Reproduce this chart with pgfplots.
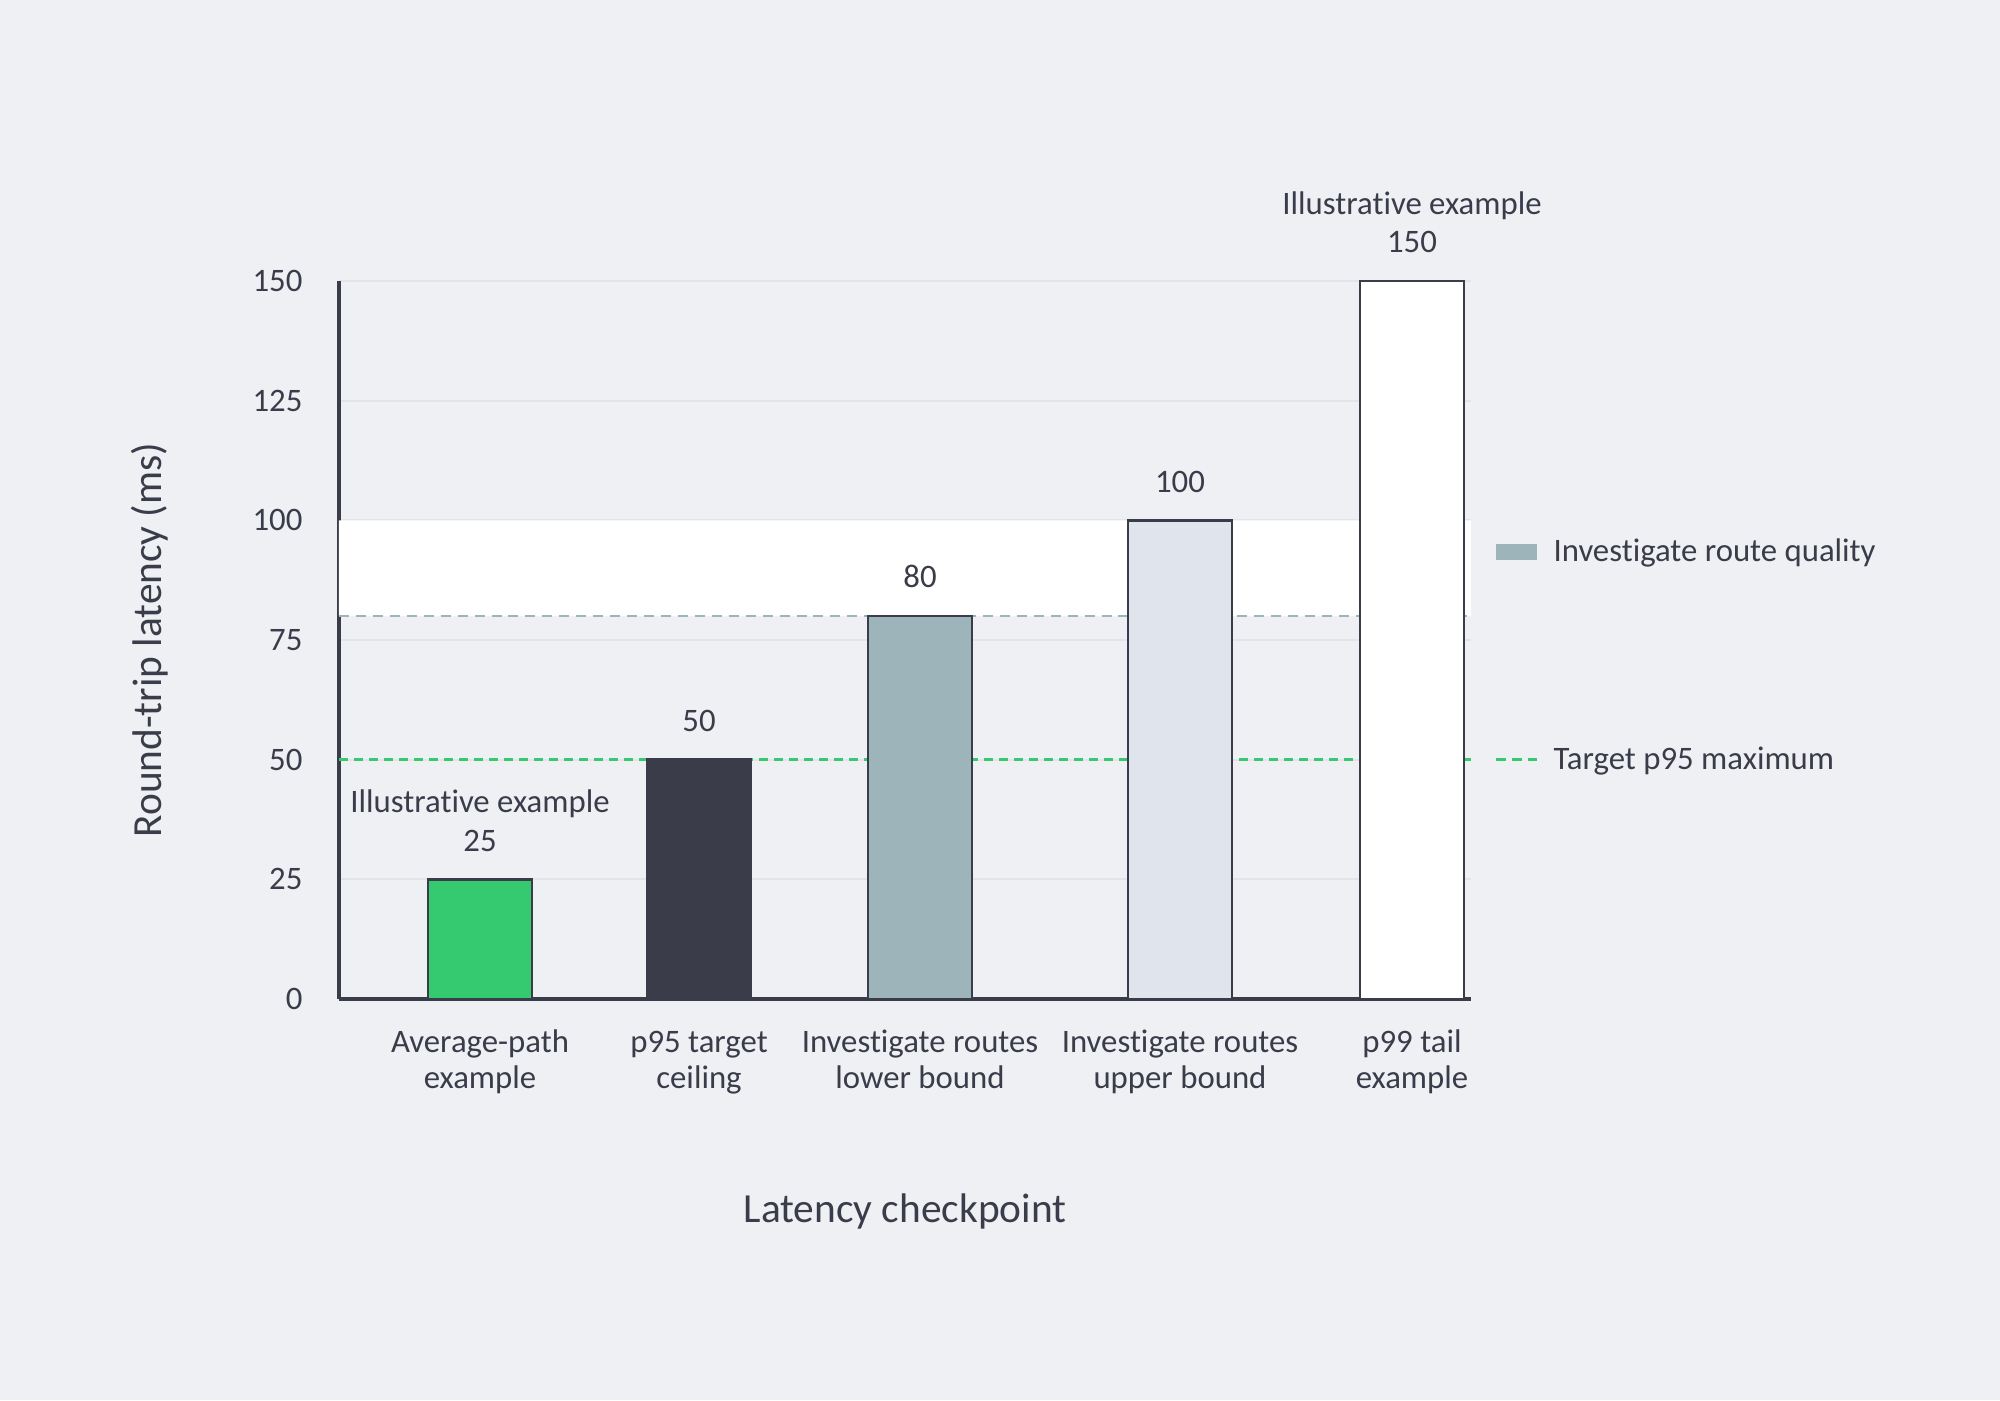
\documentclass[border=0pt]{standalone}
\usepackage{fontspec}
\setmainfont{Carlito}[Ligatures=NoCommon]
\usepackage{pgfplots}
\pgfplotsset{compat=1.18}

\definecolor{bgcol}{HTML}{EFF0F4}
\definecolor{gridcol}{HTML}{E1E5EA}
\definecolor{inkcol}{HTML}{3A3C4A}
\definecolor{greencol}{HTML}{35CA70}
\definecolor{tealcol}{HTML}{9DB4BA}
\definecolor{palecol}{HTML}{E0E4EC}

\newcommand\tf{\fontsize{11.8pt}{12.9pt}\selectfont}
\newcommand\lf{\fontsize{14.9pt}{17pt}\selectfont}
\newcommand\st{\rule{0pt}{9pt}}

\begin{document}
\begin{tikzpicture}
% page = 2000 x 1400 px, 1 px = 0.36 pt
\fill[bgcol] (0,0) rectangle (720pt,504pt);
\begin{axis}[
    at={(122.04pt,144.36pt)}, anchor=south west,
    scale only axis,
    width=407.52pt, height=258.48pt,
    xmin=339, xmax=1471, ymin=0, ymax=150,
    clip=false,
    axis lines=left,
    axis line style={-, draw=inkcol, line width=1.1pt},
    tick style={draw=none},
    major tick length=0pt,
    ymajorgrids,
    grid style={draw=gridcol, line width=0.7pt},
    ytick={0,25,50,75,100,125,150},
    xtick={480,699,920,1180,1412},
    xticklabels={{\st Average-path\\example},{\st p95 target\\ceiling},
        {\st Investigate routes\\lower bound},{\st Investigate routes\\upper bound},
        {\st p99 tail\\example}},
    /pgf/number format/assume math mode=true,
    yticklabel style={anchor=east, inner sep=0pt, xshift=-12.96pt, font=\tf, text=inkcol},
    xticklabel style={anchor=north, inner sep=0pt, align=center, yshift=-10pt, font=\tf, text=inkcol},
    xlabel={Latency checkpoint},
    ylabel={Round-trip latency (ms)},
    xlabel style={at={(axis description cs:0.5,-0.3116)}, anchor=base, font=\lf, text=inkcol},
    ylabel style={at={(axis description cs:-0.1572,0.5)}, anchor=base, font=\lf, text=inkcol},
    bar/.style={ybar, bar width=37.44pt, bar shift=0pt, draw=inkcol, line width=0.85pt,
        nodes near coords,
        every node near coord/.append style={anchor=south, inner sep=0pt, yshift=9.6pt, font=\tf, text=inkcol}},
]
% investigate band 80-100
\addplot[fill=white, draw=none] coordinates {(339,80) (1471,80) (1471,100) (339,100) (339,80)};
\addplot[draw=tealcol, line width=0.8pt, dash pattern=on 3.6pt off 2.5pt] coordinates {(339,80) (1471,80)};
\addplot[draw=greencol, line width=1.08pt, dash pattern=on 3.24pt off 2.16pt] coordinates {(339,50) (1471,50)};

\addplot[bar, fill=greencol] coordinates {(480,25)};
\addplot[bar, fill=inkcol] coordinates {(699,50)};
\addplot[bar, fill=tealcol] coordinates {(920,80)};
\addplot[bar, fill=palecol] coordinates {(1180,100)};
\addplot[bar, fill=white] coordinates {(1412,150)};

\node[anchor=base, inner sep=0pt, font=\tf, text=inkcol, yshift=24.1pt] at (axis cs:480,25) {Illustrative example};
\node[anchor=base, inner sep=0pt, font=\tf, text=inkcol, yshift=24.1pt] at (axis cs:1412,150) {Illustrative example};

% legend
\fill[tealcol] (axis cs:1496,91.71) rectangle (axis cs:1537,95.05);
\node[anchor=base west, inner sep=0pt, font=\tf, text=inkcol] at (axis cs:1553,91.5) {Investigate route quality};
\draw[greencol, line width=1.08pt, dash pattern=on 3.6pt off 2.16pt] (axis cs:1496,50) -- (axis cs:1537,50);
\node[anchor=base west, inner sep=0pt, font=\tf, text=inkcol] at (axis cs:1553,48.0) {Target p95 maximum};
\end{axis}
\end{tikzpicture}
\end{document}
